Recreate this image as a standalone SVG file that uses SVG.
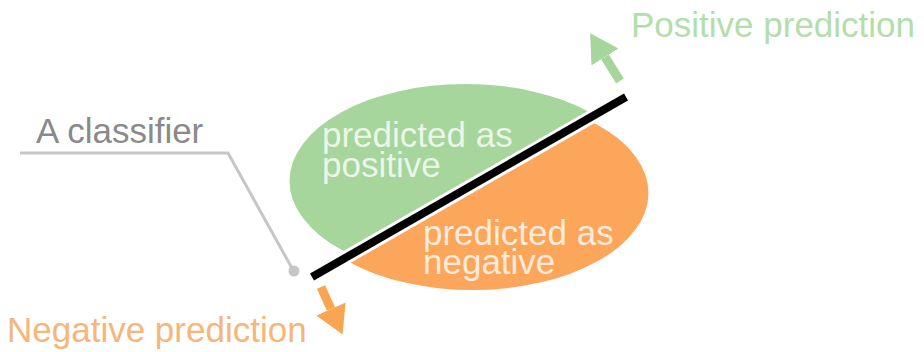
<svg xmlns="http://www.w3.org/2000/svg" width="924" height="352" viewBox="0 0 924 352">
  <style>
    text { font-family: "Liberation Sans", Arial, sans-serif; font-size: 35px; }
    .inner { fill: #ffffff; fill-opacity: 0.78; }
    .green { fill: #a6d69c; }
    .orange { fill: #fba65a; }
    .leader { fill: none; stroke: #c6c6c6; stroke-width: 3; }
    .arrow-g { stroke: #a6d69c; stroke-width: 9; fill: none; }
    .arrow-o { stroke: #f9a552; stroke-width: 9; fill: none; }
  </style>
  <defs>
    <clipPath id="above">
      <polygon points="-200,570.5 1200,-232 -200,-232"/>
    </clipPath>
    <clipPath id="below">
      <polygon points="-200,570.5 1200,-232 1200,570.5"/>
    </clipPath>
    <marker id="headG" markerUnits="userSpaceOnUse" markerWidth="28" markerHeight="32" viewBox="0 0 28 32" refX="0" refY="16" orient="auto">
      <path d="M0,0 L28,16 L0,32 z" fill="#a6d69c"/>
    </marker>
    <marker id="headO" markerUnits="userSpaceOnUse" markerWidth="28" markerHeight="32" viewBox="0 0 28 32" refX="0" refY="16" orient="auto">
      <path d="M0,0 L28,16 L0,32 z" fill="#f9a552"/>
    </marker>
  </defs>

  <g id="positive-region">
    <g transform="translate(-3.5,-6)">
      <ellipse class="green" cx="469" cy="187" rx="176" ry="97" clip-path="url(#above)"/>
    </g>
    <text class="inner" x="322" y="147">predicted as</text>
    <text class="inner" x="322" y="177">positive</text>
  </g>

  <g id="negative-region">
    <g transform="translate(3.5,6)">
      <ellipse class="orange" cx="469" cy="187" rx="176" ry="97" clip-path="url(#below)"/>
    </g>
    <text class="inner" x="423" y="245">predicted as</text>
    <text class="inner" x="423" y="274">negative</text>
  </g>

  <g id="classifier-line">
    <line x1="312" y1="277" x2="626" y2="97" stroke="#000000" stroke-width="8"/>
  </g>

  <g id="classifier-label">
    <text x="36" y="143" fill="#8a8a8a">A classifier</text>
  </g>

  <g id="positive-label">
    <text x="631" y="37" fill="#b3deab">Positive prediction</text>
  </g>

  <g id="negative-label">
    <text x="7" y="342" fill="#f6b679">Negative prediction</text>
  </g>

  <g id="connectors">
    <polyline class="leader" points="20,153 228,153 293,270"/>
    <circle cx="294" cy="271" r="5.5" fill="#c6c6c6"/>
    <line class="arrow-g" x1="620" y1="81" x2="605" y2="57" marker-end="url(#headG)"/>
    <line class="arrow-o" x1="321" y1="287" x2="331" y2="309" marker-end="url(#headO)"/>
  </g>
</svg>
